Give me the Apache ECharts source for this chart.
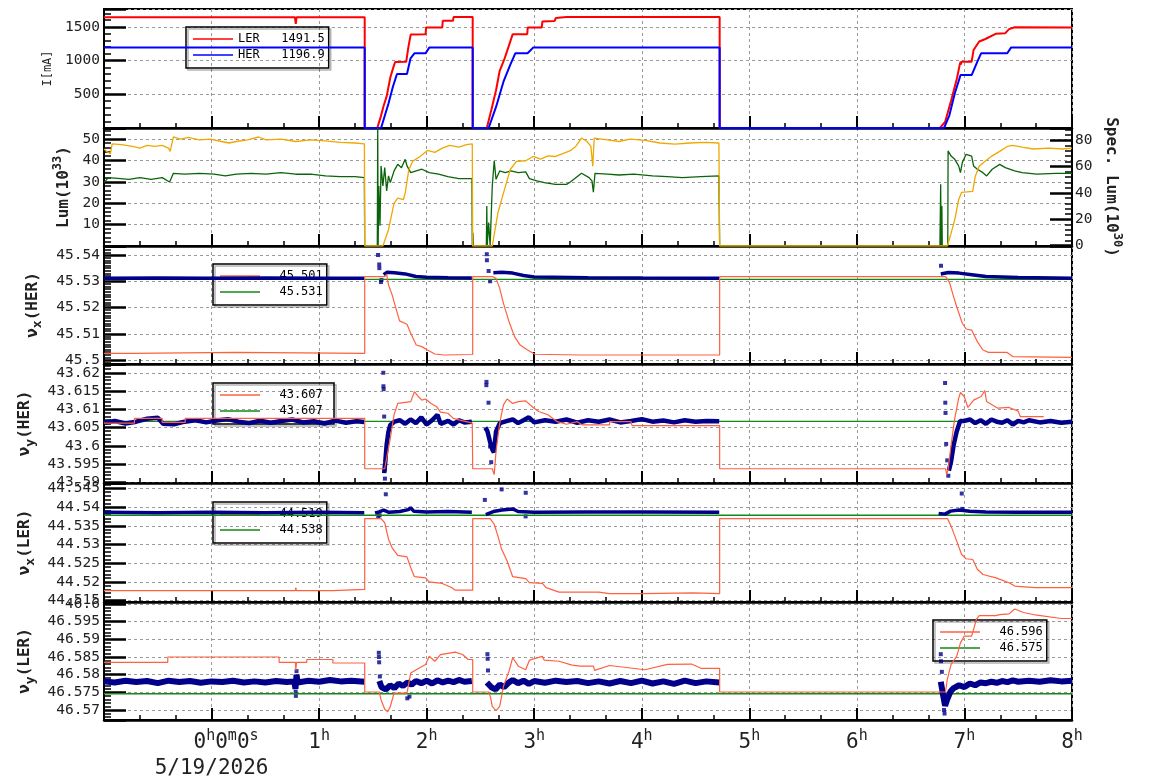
<!DOCTYPE html>
<html>
<head>
<meta charset="utf-8">
<script src="https://cdn.jsdelivr.net/npm/echarts@6.0.0/dist/echarts.min.js"></script>
<style>
  html, body { margin: 0; padding: 0; background: #fff; }
  #chart { width: 1154px; height: 782px; }
</style>
</head>
<body>
<div id="chart"></div>
<script>
// time axis: hours after 0h0m0s
var dateLabel = '5/19/2026';

// legend texts
var legendCur = ['LER   1491.5', 'HER   1196.9'];
var legendNuxHer = ['  45.501', '  45.531'];
var legendNuyHer = ['  43.607', '  43.607 '];
var legendNuxLer = ['  44.519', '  44.538'];
var legendNuyLer = ['  46.596', '  46.575'];

// beam currents [h, mA]
var curLER = [[-1,1645],[0.775,1645],[0.783,1547],[0.79,1645],[1.424,1645],[1.424,0],[1.541,0],[1.57,150],[1.6,330],[1.628,470],[1.662,750],[1.69,900],[1.707,980],[1.81,985],[1.83,1200],[1.852,1390],[1.99,1393],[1.995,1493],[2.145,1493],[2.15,1592],[2.245,1592],[2.25,1647],[2.428,1647],[2.428,0],[2.559,0],[2.6,260],[2.645,560],[2.679,850],[2.72,1010],[2.76,1200],[2.8,1393],[2.935,1393],[2.94,1493],[3.07,1493],[3.076,1582],[3.19,1590],[3.2,1632],[3.3,1647],[4.724,1647],[4.724,0],[6.772,0],[6.82,90],[6.877,413],[6.93,736],[6.955,930],[6.964,985],[6.967,940],[6.972,985],[7.067,985],[7.085,1159],[7.137,1284],[7.19,1318],[7.29,1398],[7.38,1408],[7.415,1468],[7.467,1497],[8,1493]];
var curHER = [[-1,1194],[1.424,1194],[1.424,0],[1.576,0],[1.645,363],[1.686,612],[1.724,801],[1.817,801],[1.85,1035],[1.886,1109],[1.99,1109],[2.024,1194],[2.428,1194],[2.428,0],[2.576,0],[2.645,313],[2.714,687],[2.776,935],[2.824,1109],[2.938,1109],[2.99,1194],[4.724,1194],[4.724,0],[6.81,0],[6.86,189],[6.91,512],[6.964,786],[7.067,786],[7.12,985],[7.155,1109],[7.398,1109],[7.433,1194],[8,1194]];

// luminosity [h, 1e33] and specific luminosity [h, 1e30]
var lum = [[-1,45.3],[-0.976,44.2],[-0.94,43.1],[-0.924,47.7],[-0.838,47.3],[-0.734,46.5],[-0.666,45.7],[-0.597,47.0],[-0.528,46.5],[-0.459,47.0],[-0.4,45.7],[-0.385,44.2],[-0.355,50.9],[-0.286,49.9],[-0.217,50.7],[-0.114,49.6],[-0.01,49.9],[0.093,48.8],[0.162,48.1],[0.231,48.8],[0.334,49.6],[0.438,50.9],[0.507,49.6],[0.645,49.9],[0.783,48.8],[0.921,49.6],[1.059,49.1],[1.197,48.4],[1.334,48.1],[1.421,47.7],[1.424,0],[1.593,0],[1.645,7.6],[1.697,20.0],[1.731,22.4],[1.783,21.6],[1.8,24.7],[1.834,35.6],[1.869,39.5],[1.938,41.8],[2.007,44.6],[2.076,43.7],[2.145,45.7],[2.214,47.0],[2.3,46.2],[2.369,47.3],[2.424,47.7],[2.428,0],[2.61,0],[2.662,15.4],[2.714,24.7],[2.776,35.6],[2.834,39.5],[2.921,39.8],[2.99,41.8],[3.059,40.6],[3.128,42.1],[3.197,41.8],[3.266,43.1],[3.336,44.5],[3.386,46.5],[3.44,50.4],[3.49,48.8],[3.527,46.5],[3.544,37.2],[3.558,50.4],[3.683,49.6],[3.787,48.8],[3.891,49.9],[4.03,49.3],[4.169,48.1],[4.308,47.6],[4.447,48.1],[4.586,48.4],[4.717,48.1],[4.724,0],[6.841,0],[6.876,6.0],[6.91,12.3],[6.946,21.6],[6.973,25.0],[7.077,25.5],[7.1,32.5],[7.137,37.2],[7.189,39.5],[7.258,42.1],[7.328,44.2],[7.397,46.5],[7.449,47.0],[7.536,46.2],[7.64,45.3],[7.779,45.7],[7.917,45.3],[8,45.7]];
var specLum = [[-1,47.8],[-0.959,51.6],[-0.872,51.1],[-0.769,50.3],[-0.666,51.6],[-0.562,50.3],[-0.459,51.6],[-0.39,48.3],[-0.355,54.9],[-0.252,54.2],[-0.114,54.9],[0.024,54.2],[0.128,52.9],[0.231,54.2],[0.369,54.9],[0.507,54.2],[0.645,55.4],[0.783,54.2],[0.921,54.2],[1.059,52.9],[1.197,52.4],[1.334,52.4],[1.421,51.6],[1.424,0],[1.541,0],[1.545,89.5],[1.549,0],[1.555,45.3],[1.566,15],[1.576,60.5],[1.593,45.3],[1.61,59.2],[1.628,41.5],[1.645,52.9],[1.662,47.8],[1.697,56.7],[1.731,61.7],[1.766,59.2],[1.8,65.5],[1.817,60.5],[1.852,55.4],[1.903,56.7],[1.955,58.0],[2.024,55.4],[2.11,54.2],[2.197,52.4],[2.3,50.9],[2.421,50.9],[2.424,0],[2.43,9.8],[2.434,0],[2.555,0],[2.559,30.1],[2.563,0],[2.576,17.5],[2.59,0],[2.6,0],[2.61,45.3],[2.628,64.3],[2.645,50.3],[2.679,56.7],[2.731,55.4],[2.783,56.7],[2.852,55.4],[2.921,56.0],[2.955,50.9],[3.024,49.1],[3.093,47.8],[3.197,46.5],[3.3,46.5],[3.336,48.3],[3.44,54.9],[3.51,51.6],[3.537,49.1],[3.55,40.5],[3.565,54.9],[3.683,54.2],[3.787,53.6],[3.926,54.2],[4.1,52.9],[4.238,52.4],[4.377,51.6],[4.55,52.4],[4.717,52.9],[4.724,0],[6.772,0],[6.779,46.5],[6.783,0],[6.79,30],[6.794,0],[6.845,0],[6.848,71.9],[6.876,68],[6.91,65.5],[6.946,60.5],[6.963,55.4],[6.98,63],[7.015,69.3],[7.067,68],[7.085,60.5],[7.12,58],[7.172,55.4],[7.206,52.9],[7.258,58],[7.328,61.7],[7.38,59.2],[7.467,56.7],[7.536,55.4],[7.675,54.2],[7.848,54.9],[8,54.9]];

// nu_x(HER): set value, reference, measured band, stray points
var nuxHerSet = [[-1,45.5025],[-0.734,45.5025],[-0.73,45.5029],[0.231,45.5029],[0.235,45.5025],[1.424,45.5025],[1.424,45.5318],[1.61,45.5318],[1.628,45.5326],[1.645,45.5286],[1.679,45.5248],[1.714,45.5197],[1.748,45.5149],[1.817,45.5136],[1.852,45.5102],[1.903,45.5057],[1.955,45.5051],[2.007,45.5038],[2.076,45.5023],[2.162,45.5019],[2.428,45.5021],[2.428,45.5318],[2.61,45.5318],[2.645,45.5311],[2.679,45.5273],[2.714,45.5216],[2.766,45.5146],[2.817,45.5089],[2.869,45.5057],[2.938,45.5038],[3.007,45.5022],[3.43,45.5019],[4.724,45.5019],[4.724,45.5318],[6.824,45.5318],[6.859,45.5298],[6.894,45.5248],[6.928,45.5203],[6.98,45.514],[7.015,45.5118],[7.067,45.5114],[7.12,45.507],[7.172,45.5038],[7.224,45.5029],[7.397,45.5029],[7.449,45.5013],[8,45.501]];
var nuxHerRef = [[-1,45.5307],[8,45.5307]];
var nuxHerMeas = [[-1,45.5311],[-0.5,45.5312],[0,45.5311],[0.5,45.5312],[1,45.5311],[1.42,45.5311],[1.5,null],[1.6,45.5325],[1.63,45.5334],[1.7,45.5332],[1.8,45.5328],[1.9,45.5318],[2.0,45.5315],[2.2,45.5313],[2.42,45.5312],[2.5,null],[2.62,45.5332],[2.7,45.5334],[2.8,45.5331],[2.9,45.5322],[3.0,45.5316],[3.5,45.5313],[4.0,45.5312],[4.72,45.5311],[5,null],[6.78,45.5328],[6.85,45.5333],[6.95,45.5331],[7.05,45.5326],[7.2,45.5318],[7.5,45.5314],[8,45.5311]];
var nuxHerOut = [[1.548,45.5400],[1.559,45.5364],[1.56,45.5350],[1.575,45.5297],[1.58,45.5305],[2.559,45.5403],[2.56,45.5380],[2.576,45.5339],[2.59,45.5300],[6.782,45.5359]];

// nu_y(HER)
var nuyHerSet = [[-1,43.6062],[-0.717,43.6062],[-0.717,43.6075],[-0.459,43.6075],[-0.459,43.6064],[-0.245,43.6064],[-0.245,43.6075],[1.424,43.6075],[1.424,43.5937],[1.61,43.5937],[1.628,43.5966],[1.662,43.6021],[1.697,43.6085],[1.731,43.6116],[1.852,43.6121],[1.886,43.6148],[1.921,43.6135],[1.955,43.6125],[1.99,43.6128],[2.041,43.6116],[2.093,43.6107],[2.128,43.6092],[2.197,43.6089],[2.248,43.6075],[2.3,43.6071],[2.424,43.6062],[2.428,43.5937],[2.61,43.5937],[2.628,43.5921],[2.645,43.5985],[2.679,43.6062],[2.714,43.6112],[2.748,43.6128],[2.8,43.6116],[2.852,43.6121],[2.921,43.6123],[2.99,43.6105],[3.041,43.6094],[3.128,43.6085],[3.214,43.6066],[3.3,43.6059],[3.4,43.6066],[3.45,43.6057],[3.7,43.6057],[3.7,43.6066],[3.9,43.6066],[3.91,43.6055],[4.724,43.6055],[4.724,43.5937],[6.824,43.5937],[6.835,43.5921],[6.849,43.5937],[6.876,43.6003],[6.91,43.6075],[6.946,43.613],[6.963,43.6146],[6.998,43.6135],[7.032,43.6105],[7.085,43.6125],[7.155,43.6135],[7.189,43.6151],[7.206,43.6121],[7.31,43.6103],[7.415,43.6105],[7.5,43.6095],[7.519,43.608],[7.737,43.608]];
var nuyHerRef = [[-1,43.6067],[8,43.6067]];
var nuyHerMeas = [[-1,43.6063],[-0.9,43.6068],[-0.8,43.6061],[-0.7,43.6066],[-0.6,43.6074],[-0.5,43.6077],[-0.45,43.6060],[-0.35,43.6059],[-0.25,43.6066],[-0.15,43.6070],[-0.05,43.6064],[0.05,43.6069],[0.15,43.6073],[0.25,43.6066],[0.35,43.6062],[0.45,43.6069],[0.55,43.6063],[0.65,43.6068],[0.75,43.6072],[0.85,43.6064],[0.95,43.6067],[1.05,43.6061],[1.15,43.6069],[1.25,43.6063],[1.35,43.6067],[1.42,43.6065],[1.5,null],[1.605,43.5925],[1.615,43.5955],[1.628,43.6003],[1.645,43.6039],[1.662,43.6057],[1.7,43.6066],[1.75,43.6070],[1.8,43.6060],[1.85,43.6072],[1.9,43.6062],[1.95,43.6078],[2.0,43.6058],[2.05,43.6070],[2.1,43.6085],[2.13,43.6060],[2.2,43.6068],[2.25,43.6058],[2.3,43.6070],[2.35,43.6064],[2.42,43.6066],[2.5,null],[2.545,43.6050],[2.565,43.6040],[2.59,43.6010],[2.61,43.5990],[2.625,43.5982],[2.645,43.6039],[2.68,43.6062],[2.75,43.6068],[2.8,43.6072],[2.85,43.6062],[2.9,43.6070],[2.95,43.6078],[3.0,43.6064],[3.1,43.6070],[3.2,43.6066],[3.3,43.6072],[3.4,43.6063],[3.5,43.6070],[3.6,43.6066],[3.7,43.6072],[3.8,43.6064],[3.9,43.6068],[4.0,43.6073],[4.1,43.6066],[4.2,43.6069],[4.3,43.6064],[4.4,43.6070],[4.5,43.6066],[4.6,43.6068],[4.72,43.6067],[5,null],[6.855,43.5932],[6.876,43.5957],[6.9,43.6003],[6.928,43.6039],[6.96,43.6068],[7.0,43.6068],[7.05,43.6072],[7.1,43.6062],[7.15,43.6070],[7.2,43.6060],[7.25,43.6072],[7.3,43.6066],[7.35,43.6063],[7.4,43.6070],[7.45,43.6058],[7.5,43.6068],[7.55,43.6064],[7.6,43.6070],[7.7,43.6064],[7.8,43.6068],[7.9,43.6063],[8,43.6066]];
var nuyHerOut = [[1.597,43.6200],[1.598,43.6163],[1.600,43.6155],[1.605,43.6080],[1.61,43.5935],[1.612,43.5910],[2.555,43.6166],[2.556,43.6175],[2.575,43.6118],[2.59,43.5998],[2.6,43.5955],[6.82,43.6172],[6.822,43.6118],[6.824,43.6090],[6.83,43.6005],[6.84,43.5960],[6.85,43.5918]];

// nu_x(LER)
var nuxLerSet = [[-1,44.5177],[0.62,44.5177],[0.628,44.5172],[0.64,44.5177],[0.78,44.5177],[0.783,44.5185],[0.79,44.5177],[1.128,44.5177],[1.13,44.518],[1.424,44.518],[1.424,44.5369],[1.576,44.5369],[1.61,44.5358],[1.645,44.5314],[1.679,44.5291],[1.731,44.5271],[1.817,44.5267],[1.852,44.5238],[1.886,44.5214],[1.99,44.5211],[2.024,44.52],[2.145,44.5196],[2.231,44.5185],[2.266,44.5178],[2.428,44.5178],[2.428,44.5369],[2.59,44.5369],[2.628,44.5354],[2.662,44.5323],[2.697,44.5287],[2.748,44.5256],[2.8,44.5214],[2.921,44.5209],[2.955,44.5198],[3.076,44.5196],[3.11,44.5185],[3.231,44.5173],[3.544,44.5173],[3.55,44.5176],[3.6,44.5173],[3.7,44.5169],[4.013,44.5169],[4.02,44.5171],[4.481,44.5171],[4.49,44.5169],[4.724,44.5169],[4.724,44.5369],[6.843,44.5369],[6.876,44.5349],[6.928,44.5309],[6.973,44.5274],[7.015,44.5262],[7.077,44.526],[7.12,44.5234],[7.172,44.522],[7.293,44.5211],[7.415,44.5198],[7.467,44.5189],[7.658,44.5185],[8,44.5185]];
var nuxLerRef = [[-1,44.5378],[8,44.5378]];
var nuxLerMeas = [[-1,44.5386],[-0.5,44.5385],[0,44.5386],[0.5,44.5385],[1,44.5386],[1.42,44.5385],[1.47,null],[1.52,44.5384],[1.56,44.5387],[1.6,44.5392],[1.65,44.5386],[1.75,44.5388],[1.83,44.5393],[1.85,44.5398],[1.88,44.5389],[2.0,44.5387],[2.2,44.5388],[2.42,44.5386],[2.5,null],[2.55,44.5380],[2.62,44.5388],[2.7,44.5392],[2.8,44.5395],[2.85,44.5388],[3.0,44.5386],[3.5,44.5387],[4.0,44.5387],[4.72,44.5386],[5,null],[6.76,44.5383],[6.82,44.5381],[6.87,44.5389],[6.95,44.5392],[7.05,44.5389],[7.2,44.5387],[7.5,44.5386],[8,44.5386]];
var nuxLerOut = [[1.62,44.5434],[1.55,44.5375],[1.562,44.5378],[2.541,44.5419],[2.697,44.5447],[2.921,44.5438],[2.92,44.5375],[6.975,44.5436],[6.98,44.5395]];

// nu_y(LER)
var nuyLerSet = [[-1,46.5835],[-0.407,46.5835],[-0.407,46.585],[0.628,46.585],[0.628,46.5835],[0.78,46.5835],[0.783,46.5812],[0.79,46.5835],[0.886,46.5835],[0.886,46.5843],[1.128,46.5843],[1.128,46.5833],[1.424,46.5833],[1.424,46.5751],[1.559,46.5751],[1.576,46.5729],[1.61,46.5702],[1.638,46.5695],[1.662,46.571],[1.697,46.5748],[1.817,46.5748],[1.852,46.5805],[1.903,46.5814],[1.99,46.5829],[2.024,46.5852],[2.076,46.5838],[2.128,46.5857],[2.266,46.5864],[2.334,46.5857],[2.386,46.5843],[2.428,46.5843],[2.428,46.5751],[2.576,46.5751],[2.593,46.5737],[2.61,46.571],[2.645,46.5698],[2.679,46.571],[2.714,46.5767],[2.766,46.581],[2.8,46.5848],[2.852,46.5824],[2.921,46.5814],[2.955,46.5841],[3.076,46.5852],[3.093,46.5841],[3.231,46.5838],[3.352,46.5827],[3.43,46.5824],[3.55,46.5824],[3.562,46.5812],[3.7,46.5826],[4.03,46.5814],[4.238,46.5829],[4.463,46.583],[4.55,46.5818],[4.724,46.5818],[4.724,46.5751],[6.824,46.5751],[6.84,46.5786],[6.876,46.5829],[6.928,46.5852],[6.963,46.589],[6.998,46.5909],[7.067,46.5909],[7.085,46.5928],[7.112,46.5957],[7.137,46.5967],[7.293,46.5967],[7.328,46.597],[7.415,46.5972],[7.467,46.5986],[7.55,46.5976],[7.658,46.5969],[7.9,46.5959],[8,46.5959]];
var nuyLerRef = [[-1,46.5746],[8,46.5746]];
var nuyLerMeas = [[-1,46.5781],[-0.9,46.5778],[-0.8,46.5783],[-0.7,46.5779],[-0.6,46.5782],[-0.5,46.5776],[-0.4,46.5783],[-0.3,46.5779],[-0.2,46.5782],[-0.1,46.5777],[0,46.5781],[0.1,46.5779],[0.2,46.5783],[0.3,46.5778],[0.4,46.5781],[0.5,46.5778],[0.6,46.5782],[0.7,46.5779],[0.77,46.5781],[0.78,46.5760],[0.79,46.5800],[0.8,46.5778],[0.9,46.5783],[1.0,46.5780],[1.1,46.5785],[1.2,46.5781],[1.3,46.5783],[1.42,46.5780],[1.5,null],[1.56,46.5782],[1.58,46.5765],[1.62,46.5758],[1.66,46.5770],[1.7,46.5762],[1.74,46.5775],[1.78,46.5768],[1.82,46.5778],[1.86,46.5772],[1.9,46.5782],[1.95,46.5776],[2.0,46.5783],[2.05,46.5775],[2.1,46.5784],[2.15,46.5778],[2.2,46.5783],[2.25,46.5779],[2.3,46.5785],[2.35,46.5780],[2.42,46.5782],[2.5,null],[2.56,46.5778],[2.6,46.5765],[2.64,46.5758],[2.68,46.5772],[2.72,46.5765],[2.76,46.5777],[2.8,46.5785],[2.85,46.5776],[2.9,46.5783],[2.95,46.5774],[3.0,46.5782],[3.1,46.5777],[3.2,46.5783],[3.3,46.5779],[3.4,46.5782],[3.5,46.5776],[3.6,46.5781],[3.7,46.5775],[3.8,46.5782],[3.9,46.5776],[4.0,46.5783],[4.1,46.5775],[4.2,46.5781],[4.3,46.5774],[4.4,46.5783],[4.5,46.5776],[4.6,46.5781],[4.72,46.5778],[5,null],[6.78,46.5780],[6.80,46.5745],[6.82,46.5712],[6.84,46.5730],[6.87,46.5752],[6.9,46.5762],[6.95,46.5770],[7.0,46.5765],[7.05,46.5775],[7.1,46.5770],[7.15,46.5778],[7.2,46.5776],[7.25,46.5780],[7.3,46.5777],[7.35,46.5782],[7.4,46.5779],[7.45,46.5784],[7.5,46.5780],[7.6,46.5783],[7.7,46.5780],[7.8,46.5784],[7.9,46.5781],[8,46.5783]];
var nuyLerOut = [[0.782,46.5752],[0.784,46.5740],[0.79,46.5810],[1.555,46.5862],[1.556,46.5850],[1.558,46.5835],[1.565,46.5795],[1.82,46.5733],[1.84,46.5738],[2.565,46.5858],[2.567,46.5845],[2.57,46.5812],[6.78,46.5858],[6.782,46.5838],[6.79,46.5808],[6.81,46.5700],[6.815,46.5690]];

var MONO = 'DejaVu Sans Mono';
var NAVY = '#00008b';
var TOMATO = '#ff6040';
var GREEN = '#138a13';

var myChart = echarts.init(document.getElementById('chart'), null, {renderer: 'canvas'});

var tops = [9, 128, 246, 364, 483, 602];
var heights = [119, 118, 118, 119, 119, 118];

function fmt(v) { return String(+(+v).toFixed(4)); }

function gridOf(i) {
    return {left: 104, right: 82, top: tops[i], height: heights[i], show: true,
        borderColor: '#000', borderWidth: 2, outerBoundsMode: 'none', containLabel: false};
}

function xAxisOf(i) {
    var last = (i === 5);
    return {
        type: 'value', gridIndex: i, min: -1, max: 8, interval: 1,
        axisLine: {show: true, onZero: false, lineStyle: {color: '#000', width: 2.5}},
        axisTick: {show: true, inside: true, length: 12, lineStyle: {color: '#000', width: 2}},
        minorTick: {show: true, splitNumber: 3, length: 5, lineStyle: {color: '#000', width: 1.5}},
        splitLine: {show: true, lineStyle: {color: '#9a9a9a', width: 1, type: [3, 3]}},
        axisLabel: {
            show: last, showMinLabel: false, margin: 10, color: '#222',
            fontFamily: MONO, fontSize: 21,
            formatter: function (v) {
                if (v < 0) return '';
                if (v === 0) return '{p|}{n|0}{s|h}{n|0}{s|m}{n|0}{s|s}\n{d|' + dateLabel + '}';
                return '{n|' + v + '}{s|h}';
            },
            rich: {
                p: {width: 29},
                n: {fontFamily: MONO, fontSize: 21, color: '#222', lineHeight: 26},
                s: {fontFamily: MONO, fontSize: 15, color: '#222', lineHeight: 26, padding: [0, 0, 14, 0]},
                d: {fontFamily: MONO, fontSize: 21, color: '#222', lineHeight: 26}
            }
        }
    };
}

var nameRich = {
    b: {fontFamily: MONO, fontSize: 16, fontWeight: 'bold', color: '#222'},
    a: {fontFamily: MONO, fontSize: 12, color: '#222'},
    sup: {fontFamily: MONO, fontSize: 12, fontWeight: 'bold', color: '#222', padding: [0, 0, 12, 0]},
    sub: {fontFamily: MONO, fontSize: 13, fontWeight: 'bold', color: '#222', padding: [10, 0, 0, 0]}
};

function yAxisOf(grid, min, max, step, minorSplit, name, gap, pos) {
    var right = (pos === 'right');
    return {
        type: 'value', gridIndex: grid, position: pos || 'left', scale: true,
        min: min, max: max, minInterval: step, maxInterval: step, splitNumber: 5,
        axisLine: {show: true, onZero: false, lineStyle: {color: '#000', width: 2}},
        axisTick: {show: true, inside: true, length: 22, lineStyle: {color: '#000', width: 2.5}},
        minorTick: {show: true, splitNumber: minorSplit, length: 7, lineStyle: {color: '#000', width: 1.5}},
        splitLine: {show: !right, lineStyle: {color: '#9a9a9a', width: 1, type: [3, 3]}},
        axisLabel: {show: true, showMinLabel: false, showMaxLabel: false, margin: right ? 3 : 4,
            fontFamily: MONO, fontSize: 14.5, color: '#222', formatter: fmt},
        name: name, nameLocation: 'middle', nameGap: gap, nameRotate: right ? -90 : 90,
        nameTextStyle: {rich: nameRich}
    };
}

function line(name, data, idx, yIdx, color, width) {
    return {type: 'line', name: name, data: data, xAxisIndex: idx, yAxisIndex: yIdx,
        symbol: 'none', showSymbol: false, connectNulls: false, animation: false,
        lineStyle: {color: color, width: width}, itemStyle: {color: color}};
}

function dots(name, data, idx, yIdx) {
    return {type: 'scatter', name: name, data: data, xAxisIndex: idx, yAxisIndex: yIdx,
        symbol: 'rect', symbolSize: 4, animation: false, itemStyle: {color: NAVY}};
}

function legendOf(names, left, top) {
    return {
        show: true, orient: 'vertical', left: left, top: top, data: names, z: 1,
        selectedMode: false, icon: 'rect', itemWidth: 40, itemHeight: 1.5, itemGap: 4,
        padding: [6, 4, 7, 7], borderColor: '#000', borderWidth: 1.5, borderRadius: 0,
        backgroundColor: 'rgba(0,0,0,0)',
        shadowColor: 'rgba(0,0,0,0.3)', shadowBlur: 0, shadowOffsetX: 2, shadowOffsetY: 2,
        textStyle: {fontFamily: MONO, fontSize: 12, color: '#000', lineHeight: 12}
    };
}

var option = {
    backgroundColor: '#fff',
    animation: false,
    grid: [0, 1, 2, 3, 4, 5].map(gridOf),
    xAxis: [0, 1, 2, 3, 4, 5].map(xAxisOf),
    yAxis: [
        yAxisOf(0, 0, 1767, 500, 5, '{a|I[mA]}', 42),
        yAxisOf(1, 0, 55.1, 10, 5, '{b|Lum(10}{sup|33}{b|)}', 22),
        yAxisOf(1, -0.3, 89.3, 20, 5, '{b|Spec. Lum(10}{sup|30}{b|)}', 22, 'right'),
        yAxisOf(2, 45.49848, 45.54343, 0.01, 10, '{b|ν}{sub|x}{b|(HER)}', 60),
        yAxisOf(3, 43.5898, 43.6224, 0.005, 5, '{b|ν}{sub|y}{b|(HER)}', 63),
        yAxisOf(4, 44.51465, 44.54641, 0.005, 5, '{b|ν}{sub|x}{b|(LER)}', 63),
        yAxisOf(5, 46.56717, 46.60057, 0.005, 5, '{b|ν}{sub|y}{b|(LER)}', 63)
    ],
    legend: [
        legendOf(legendCur, 186, 27),
        legendOf(legendNuxHer, 213, 264),
        legendOf(legendNuyHer, 213, 383),
        legendOf(legendNuxLer, 213, 502),
        legendOf(legendNuyLer, 933, 620)
    ],
    series: [
        line(legendCur[0], curLER, 0, 0, '#ff0000', 2),
        line(legendCur[1], curHER, 0, 0, '#0000ff', 2),

        line('specLum', specLum, 1, 2, '#0a640a', 1.3),
        line('lum', lum, 1, 1, '#f0a800', 1.3),

        line(legendNuxHer[1], nuxHerRef, 2, 3, GREEN, 1.3),
        line('nuxHerMeas', nuxHerMeas, 2, 3, NAVY, 3.5),
        dots('nuxHerOut', nuxHerOut, 2, 3),
        line(legendNuxHer[0], nuxHerSet, 2, 3, TOMATO, 1.2),

        line(legendNuyHer[1], nuyHerRef, 3, 4, GREEN, 1.3),
        line('nuyHerMeas', nuyHerMeas, 3, 4, NAVY, 4.5),
        dots('nuyHerOut', nuyHerOut, 3, 4),
        line(legendNuyHer[0], nuyHerSet, 3, 4, TOMATO, 1.2),

        line(legendNuxLer[1], nuxLerRef, 4, 5, GREEN, 1.3),
        line('nuxLerMeas', nuxLerMeas, 4, 5, NAVY, 3.5),
        dots('nuxLerOut', nuxLerOut, 4, 5),
        line(legendNuxLer[0], nuxLerSet, 4, 5, TOMATO, 1.2),

        line(legendNuyLer[1], nuyLerRef, 5, 6, GREEN, 1.3),
        line('nuyLerMeas', nuyLerMeas, 5, 6, NAVY, 6),
        dots('nuyLerOut', nuyLerOut, 5, 6),
        line(legendNuyLer[0], nuyLerSet, 5, 6, TOMATO, 1.2)
    ]
};

myChart.setOption(option);
</script>
</body>
</html>
